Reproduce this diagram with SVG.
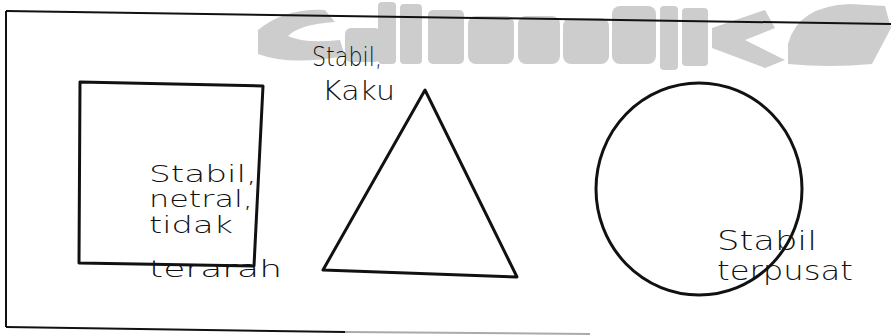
<svg xmlns="http://www.w3.org/2000/svg" width="891" height="336" viewBox="0 0 891 336">
<style>
.frame{fill:none;stroke:#111;stroke-width:2}
.shape{fill:none;stroke:#111;stroke-width:3;stroke-linejoin:round;stroke-linecap:round}
.hand{font-family:"DejaVu Sans","Liberation Sans",sans-serif;font-weight:200;font-size:27px;fill:#111}
.sm{font-size:23px}
.wm{fill:#cdcdcd}
</style>
<rect width="891" height="336" fill="#fff"/>
<g id="watermark" class="wm">
<path d="M258 30 Q285 8 325 10 L335 22 Q300 24 288 36 Q305 44 340 40 L345 56 Q290 66 258 54 Z"/>
<rect x="345" y="28" width="36" height="34" rx="6"/>
<rect x="378" y="2" width="18" height="62" rx="4"/>
<rect x="400" y="4" width="22" height="60" rx="4"/>
<rect x="428" y="10" width="36" height="54" rx="5"/>
<rect x="468" y="16" width="46" height="48" rx="8"/>
<rect x="518" y="16" width="42" height="48" rx="8"/>
<rect x="563" y="18" width="46" height="46" rx="8"/>
<rect x="612" y="6" width="44" height="58" rx="8"/>
<rect x="660" y="6" width="18" height="64" rx="4"/>
<rect x="682" y="8" width="26" height="58" rx="4"/>
<path d="M712 28 L765 10 L775 28 L745 40 L785 60 L765 68 L712 48 Z"/>
<path d="M788 44 Q798 6 850 4 L885 6 L891 28 L872 64 Q830 68 788 64 Z"/>
</g>
<g id="frame">
<line class="frame" x1="6" y1="11" x2="891" y2="24"/>
<line class="frame" x1="6" y1="11" x2="6" y2="327"/>
<line class="frame" x1="6" y1="327" x2="345" y2="332"/>
<line x1="345" y1="332" x2="590" y2="334" stroke="#aaa" stroke-width="2"/>
</g>
<g id="square">
<path class="shape" d="M80 82 L263 86 L254 266 L79 263 Z"/>
<text class="hand sm" x="149" y="182" textLength="108" lengthAdjust="spacingAndGlyphs">Stabil,</text>
<text class="hand sm" x="149" y="207" textLength="104" lengthAdjust="spacingAndGlyphs">netral,</text>
<text class="hand sm" x="149" y="233" textLength="84" lengthAdjust="spacingAndGlyphs">tidak</text>
<text class="hand sm" x="149" y="277" textLength="133" lengthAdjust="spacingAndGlyphs">terarah</text>
</g>
<g id="triangle">
<path class="shape" d="M425 90 L323 270 L517 277 Z"/>
<text class="hand" x="312" y="66" textLength="70" lengthAdjust="spacingAndGlyphs">Stabil,</text>
<text class="hand" x="322" y="100" textLength="73" lengthAdjust="spacingAndGlyphs" fill="#333">Kaku</text>
</g>
<g id="circle">
<ellipse class="shape" cx="699" cy="189" rx="103" ry="106"/>
<text class="hand" x="717" y="250" textLength="100" lengthAdjust="spacingAndGlyphs">Stabil</text>
<text class="hand" x="717" y="280" textLength="136" lengthAdjust="spacingAndGlyphs">terpusat</text>
</g>
</svg>
